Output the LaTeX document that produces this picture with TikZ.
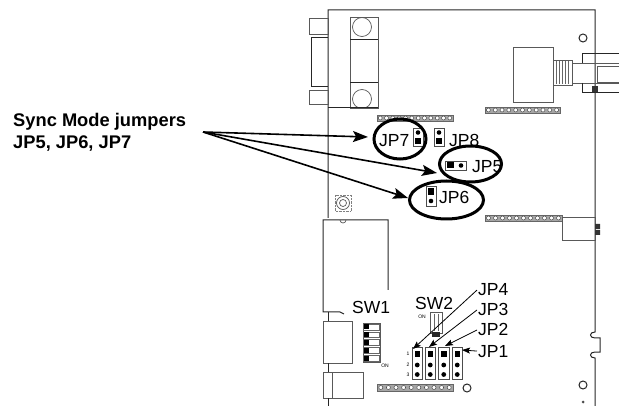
\documentclass[tikz,border=0pt]{standalone}
\usepackage{fontspec}
\setmainfont{Liberation Sans}
\usetikzlibrary{arrows.meta,shapes.geometric}
\newcommand\pcbheader[5]{% x1,y1,x2,y2,n
  \fill[black!35] (#1,#2) rectangle (#3,#4);
  \draw[black!60,line width=0.5pt] (#1,#2) rectangle (#3,#4);
  \foreach \k in {1,...,#5} {\draw[black!70,fill=white,line width=0.5pt] ({#1+(\k-0.5)*(#3-#1)/#5},{(#2+#4)/2}) circle[radius=2];}
}
\begin{document}
\begin{tikzpicture}[x=1pt,y=-1pt,
  pcb/.style={draw=black!85,line width=1pt},
  pcbthin/.style={draw=black!65,line width=0.7pt},
  lbl/.style={font=\fontsize{17.5}{17.5}\selectfont,inner sep=0pt,anchor=base west},
  boldlbl/.style={font=\bfseries\fontsize{18.3}{18.3}\selectfont,inner sep=0pt,anchor=base west},
  ring/.style={draw=black,line width=3pt},
  bigarrow/.style={draw=black,line width=1.6pt,-{Stealth[length=15pt,width=11pt,inset=3pt]}},
  smallarrow/.style={draw=black,line width=0.8pt,-{Stealth[length=8pt,width=6pt,inset=1.5pt]}},
  tinytxt/.style={font=\fontsize{5}{5}\selectfont,inner sep=0pt},
  jbox/.style={draw=black!70,fill=white,line width=0.6pt},
]
\useasboundingbox (0,0) rectangle (619,406);

% ---------- board outline ----------
\draw[pcb] (328,218) -- (328,10) -- (595,10) -- (595,332)
  .. controls (589,332) and (589,338) .. (595,338) -- (600,338) -- (600,352) -- (595,352)
  .. controls (589,352) and (589,358) .. (595,358) -- (595,406);

% ---------- DB9 connector ----------
\draw[pcb] (350,17) -- (350,108);
\draw[pcbthin] (350,17) rectangle (378,108);
\draw[pcb] (350,40) -- (378,40) (350,83) -- (378,83);
\draw[pcbthin] (362,27) circle[radius=9.5] (362,99) circle[radius=9.5];
\draw[pcb] (328,108) -- (378,108);
\draw[pcbthin] (309,18) rectangle (328,34) (309,90) rectangle (328,104);
\draw[pcb] (328,38) -- (311,38) -- (311,87) -- (328,87);

% ---------- coax connector ----------
\draw[pcb] (583,38) circle[radius=4];
\draw[pcbthin] (513,47) rectangle (553,102);
\draw[pcbthin] (553,60) rectangle (572,85);
\foreach \t in {556,559,...,570} \draw[black!60,line width=0.5pt] (\t,61) -- (\t,84);
\draw[pcbthin] (572,63) -- (619,63) (572,83) -- (619,83);
\draw[pcb] (619,54) -- (582,54) -- (582,63) (582,83) -- (582,93) -- (619,93);
\draw[pcbthin] (619,66) -- (597,66) -- (597,82) -- (619,82);
\fill[black!80] (592,86) rectangle (598,92);

% ---------- headers ----------
\pcbheader{485}{107}{560}{113}{11}
\pcbheader{377}{115}{453}{121}{12}
\pcbheader{485}{215}{562}{221}{11}
\pcbheader{377}{384}{453}{391}{10}

% ---------- right side parts ----------
\draw[pcbthin] (562,217) rectangle (595,240);
\fill[black!80] (595,224) rectangle (600,229) (595,230) rectangle (600,235);
\draw[pcb] (583,385) circle[radius=4];
\fill[black!70] (583,402) circle[radius=1.5];
\draw[pcb] (467,388) circle[radius=4];

% ---------- left side parts ----------
\draw[black!65,line width=0.7pt] (343,203) circle[radius=6.5] (343,203) circle[radius=3.5];
\draw[black!50,densely dotted] (335,195) rectangle (351,211);
\draw[pcb] (388,290) -- (388,220) -- (323,220) -- (323,312) -- (340,312) -- (344,314);
\draw[pcbthin] (340,220) arc[start angle=180,end angle=0,radius=3];
\draw[pcb] (328,312) -- (328,321);
\draw[pcbthin] (323,321) rectangle (352,363);
\draw[pcb] (328,363) -- (328,372);
\draw[pcbthin] (323,372) rectangle (363,398);
\draw[pcbthin] (332,372) -- (332,398);
\draw[pcb] (328,398) -- (328,406);

% DIP switch SW1
\draw[pcbthin] (363,323) rectangle (380,362);
\foreach \i in {0,...,4} {
  \draw[black!60,line width=0.5pt] (363.5,{323+\i*7.8+1}) rectangle (379.5,{323+\i*7.8+6.8});
  \fill[black] (364,{323+\i*7.8+1.5}) rectangle (368.5,{323+\i*7.8+6.3});
}
\node[tinytxt] (sw1on) at (385,366) {ON};
\node[lbl] (sw1) at (352,313) {SW1};

% SW2
\draw[pcbthin] (430,312) rectangle (442,333);
\draw[black!60,line width=0.5pt] (434,314) -- (434,331) (438,314) -- (438,331);
\fill[black!85] (432,332) rectangle (440,337);
\node[tinytxt] (sw2on) at (422,317) {ON};
\node[lbl] (sw2) at (415,310) {SW2};

% JP1-JP4 blocks
\foreach \bx [count=\n] in {412,425,438.5,452} {
  \draw[jbox] (\bx,347) rectangle (\bx+10.5,379);
  \fill[black] (\bx+2.5,350.5) rectangle (\bx+8,356.5);
  \fill[black] (\bx+5.25,365) circle[radius=2.4] (\bx+5.25,374.5) circle[radius=2.4];
  \coordinate (jb\n) at (\bx+3,347);
}
\node[tinytxt] (p1) at (408,354) {1};
\node[tinytxt] (p2) at (408,364.5) {2};
\node[tinytxt] (p3) at (408,375) {3};

\node[lbl] (jp4) at (478,296) {JP4};
\node[lbl] (jp3) at (478,316) {JP3};
\node[lbl] (jp2) at (478,336) {JP2};
\node[lbl] (jp1) at (478,357) {JP1};
\coordinate (jp4t) at (413,349);
\coordinate (jp3t) at (429,347);
\coordinate (jp2t) at (445,346);
\coordinate (jp1t) at (462,350);
\draw[smallarrow] ([xshift=-1pt]jp4.west) -- (jp4t);
\draw[smallarrow] ([xshift=-1pt]jp3.west) -- (jp3t);
\draw[smallarrow] ([xshift=-1pt]jp2.west) -- (jp2t);
\draw[smallarrow] ([xshift=-1pt]jp1.west) -- (jp1t);

% ---------- JP5-JP8 ----------
% JP7
\draw[jbox] (413,128) rectangle (423,146);
\fill[black] (418,132.5) circle[radius=2.3];
\fill[black] (415,138.5) rectangle (421,144.5);
% JP8
\draw[jbox] (434,128) rectangle (444,146);
\fill[black] (439,132.5) circle[radius=2.3];
\fill[black] (436,138.5) rectangle (442,144.5);
% JP5
\draw[jbox] (445,161) rectangle (466,170);
\fill[black] (447,162.5) rectangle (454,168.5);
\fill[black] (461,165.5) circle[radius=2.3];
% JP6
\draw[jbox] (426,186) rectangle (436,206);
\fill[black] (428,188) rectangle (434,195);
\fill[black] (431,201) circle[radius=2.3];

\node[lbl] (jp7) at (379,146.5) {JP7};
\node[lbl] (jp8) at (449,147) {JP8};
\node[lbl] (jp5) at (472,172.5) {JP5};
\node[lbl] (jp6) at (439,204) {JP6};

\draw[ring] (400,139) ellipse[x radius=26,y radius=20];
\draw[ring] (470.5,164) ellipse[x radius=31,y radius=18];
\draw[ring] (446.5,200) ellipse[x radius=37,y radius=19];

% ---------- callout ----------
\node[boldlbl] (sync1) at (13,127) {Sync Mode jumpers};
\node[boldlbl] (sync2) at (13,149) {JP5, JP6, JP7};
\coordinate (src) at (203,132);
\coordinate (t7) at (368,137);
\coordinate (t5) at (437,173);
\coordinate (t6) at (408,198);
\draw[bigarrow] (src) -- (t7);
\draw[bigarrow] (src) -- (t5);
\draw[bigarrow] (src) -- (t6);
\end{tikzpicture}
\end{document}
